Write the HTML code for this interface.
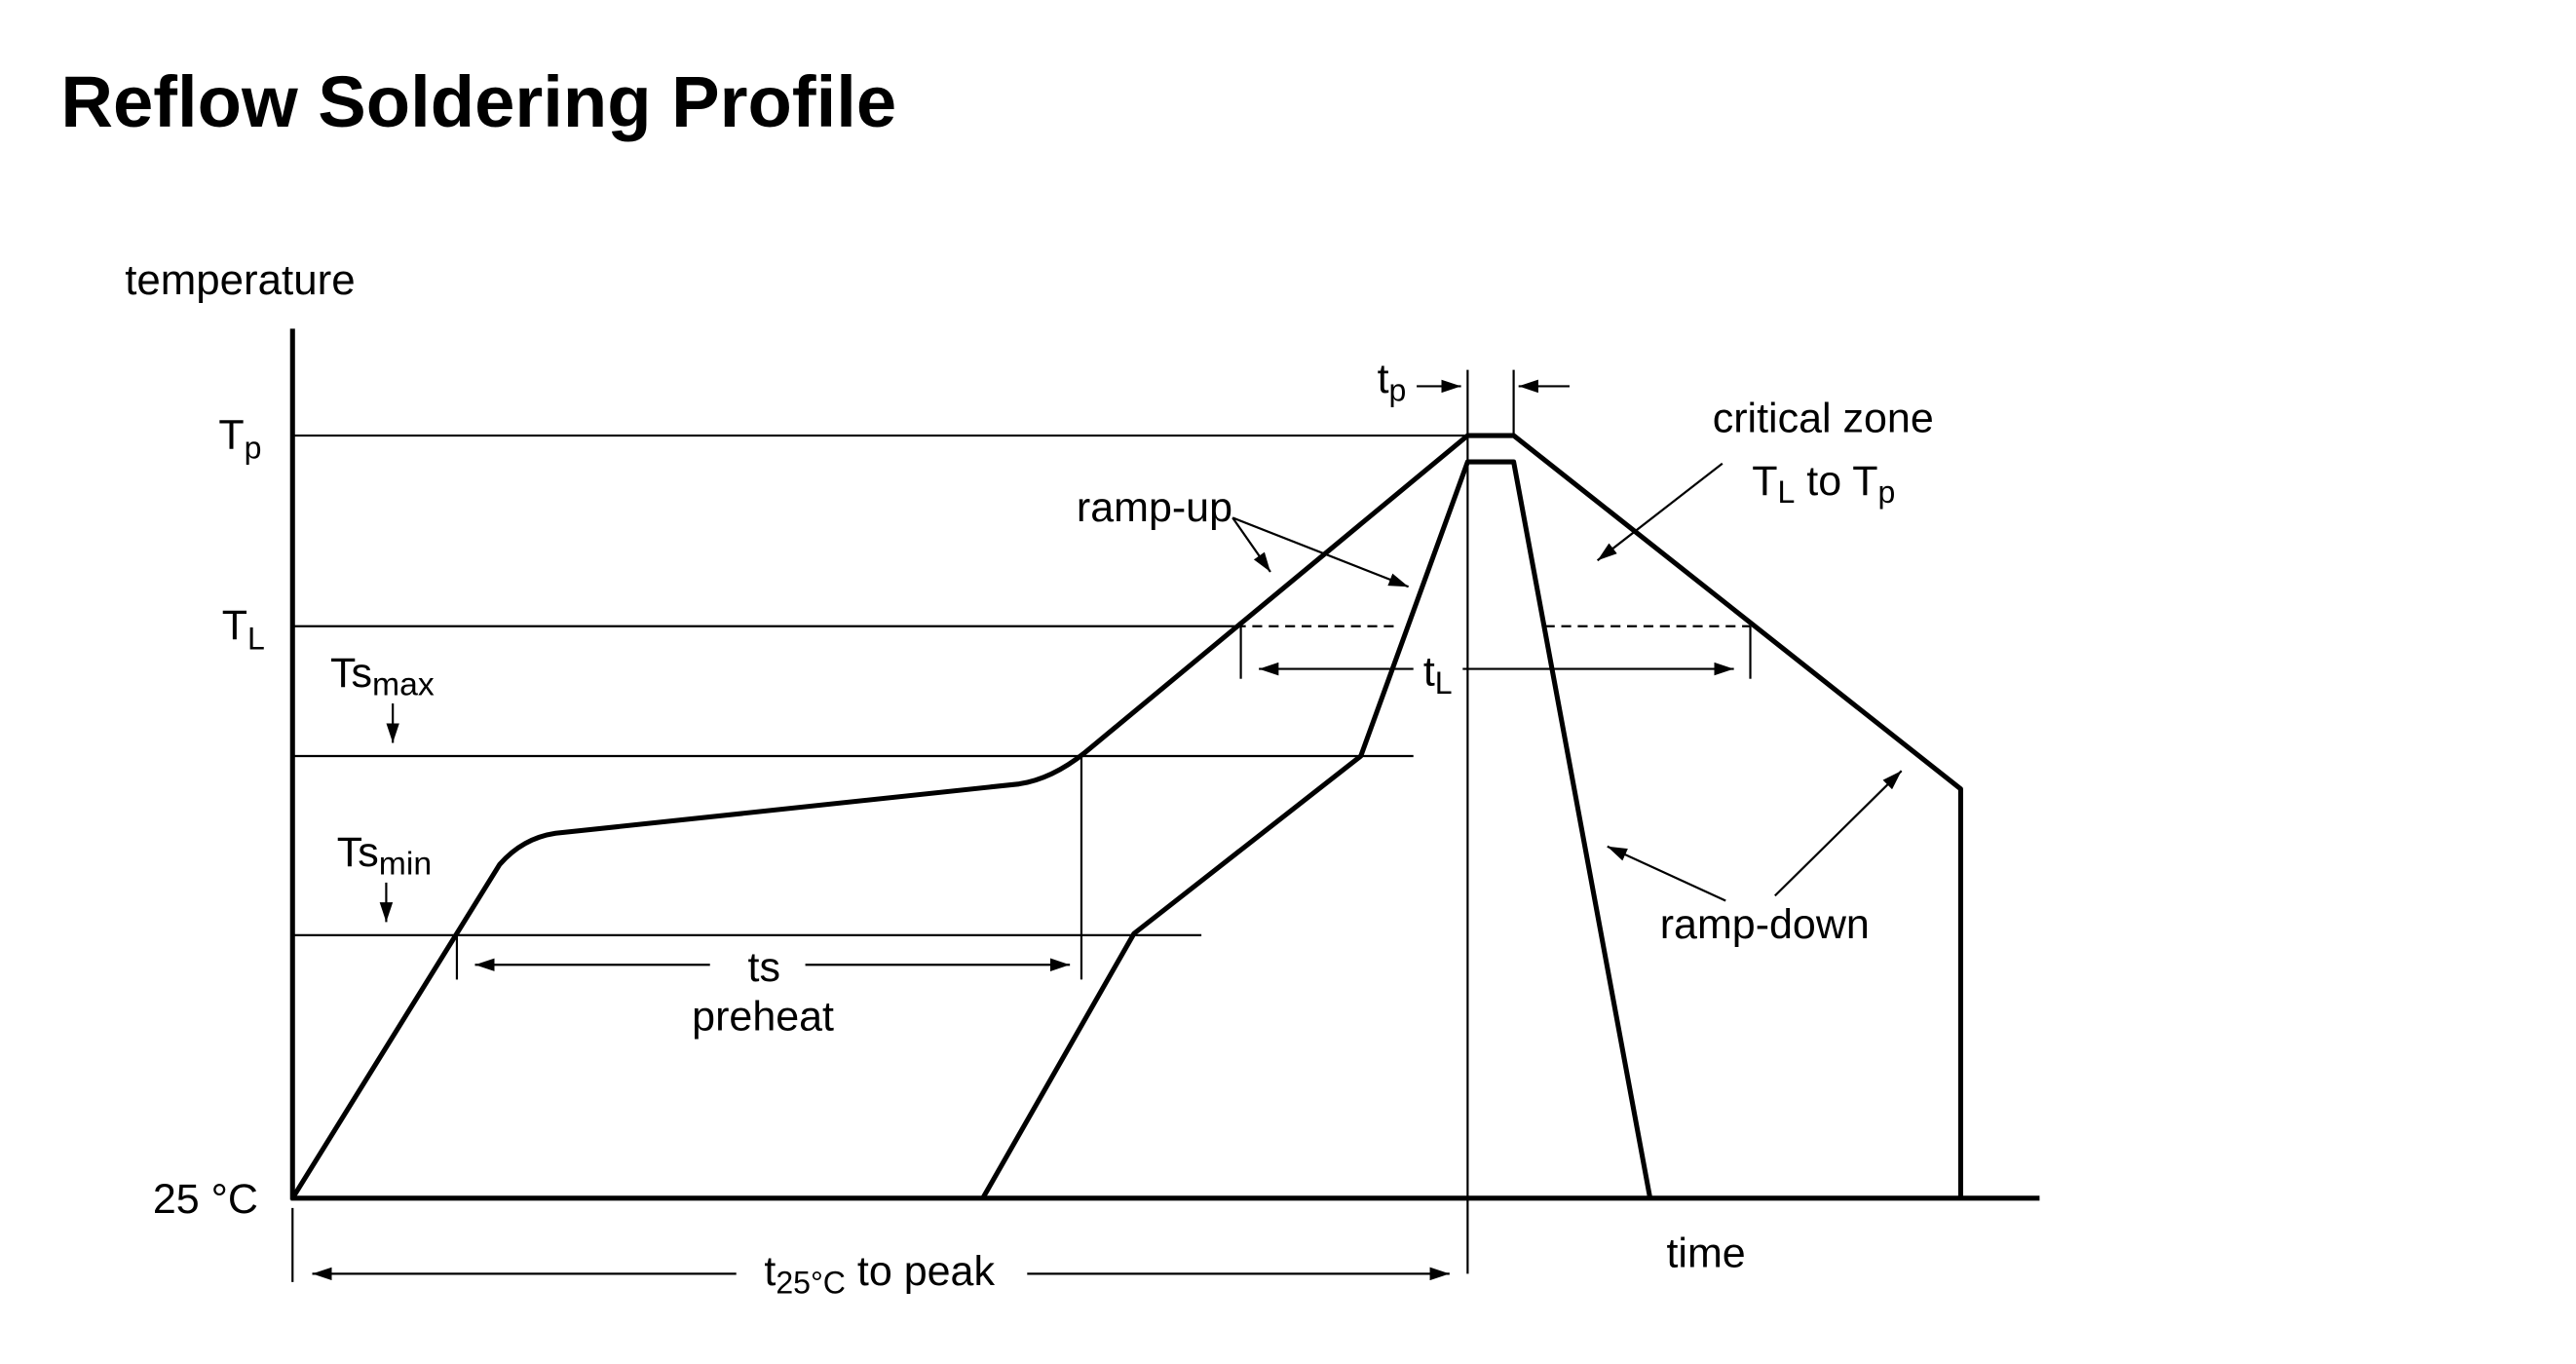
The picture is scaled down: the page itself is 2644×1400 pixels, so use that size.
<!DOCTYPE html>
<html><head><meta charset="utf-8"><style>
html,body{margin:0;padding:0;background:#fff;}
svg{display:block;}
text{font-family:"Liberation Sans",Arial,sans-serif;fill:#000;}
</style></head><body>
<svg width="2644" height="1400" viewBox="0 0 1567.4 829.9" preserveAspectRatio="none" xmlns="http://www.w3.org/2000/svg">
<defs>
<marker id="a" viewBox="0 0 12 8" refX="12" refY="4" markerWidth="12" markerHeight="8" markerUnits="userSpaceOnUse" orient="auto">
<path d="M0,0 L12,4 L0,8 z" fill="#000"/></marker>
</defs>
<text x="37" y="77" font-size="44" font-weight="bold">Reflow Soldering Profile</text>
<text x="76" y="179" font-size="26">temperature</text>
<g stroke="#000" fill="none">
<line x1="178" y1="200" x2="178" y2="730" stroke-width="3"/>
<line x1="177" y1="729" x2="1241" y2="729" stroke-width="3"/>
<g stroke-width="1.3">
<line x1="178" y1="265" x2="893" y2="265"/>
<line x1="178" y1="381" x2="752" y2="381"/>
<line x1="752" y1="381" x2="852" y2="381" stroke-dasharray="6,4"/>
<line x1="940" y1="381" x2="1065" y2="381" stroke-dasharray="6,4"/>
<line x1="178" y1="460" x2="860" y2="460"/>
<line x1="178" y1="569" x2="731" y2="569"/>
<line x1="893" y1="225" x2="893" y2="775"/>
<line x1="921" y1="225" x2="921" y2="265"/>
<line x1="658" y1="460" x2="658" y2="596"/>
<line x1="278" y1="569" x2="278" y2="596"/>
<line x1="755" y1="381" x2="755" y2="413"/>
<line x1="1065" y1="381" x2="1065" y2="413"/>
<line x1="178" y1="735" x2="178" y2="780"/>
<line x1="239" y1="428" x2="239" y2="452" marker-end="url(#a)"/>
<line x1="235" y1="537" x2="235" y2="561" marker-end="url(#a)"/>
<line x1="432" y1="587" x2="289" y2="587" marker-end="url(#a)"/>
<line x1="490" y1="587" x2="651" y2="587" marker-end="url(#a)"/>
<line x1="448" y1="775" x2="190" y2="775" marker-end="url(#a)"/>
<line x1="625" y1="775" x2="882" y2="775" marker-end="url(#a)"/>
<line x1="860" y1="407" x2="766" y2="407" marker-end="url(#a)"/>
<line x1="890" y1="407" x2="1055" y2="407" marker-end="url(#a)"/>
<line x1="862" y1="235" x2="889" y2="235" marker-end="url(#a)"/>
<line x1="955" y1="235" x2="924" y2="235" marker-end="url(#a)"/>
<line x1="750" y1="315" x2="773" y2="348" marker-end="url(#a)"/>
<line x1="750" y1="315" x2="857" y2="357" marker-end="url(#a)"/>
<line x1="1048" y1="282" x2="972" y2="341" marker-end="url(#a)"/>
<line x1="1050" y1="548" x2="978" y2="515" marker-end="url(#a)"/>
<line x1="1080" y1="545" x2="1157" y2="469" marker-end="url(#a)"/>
</g>
<path d="M178,729 L304,526 Q318,510 338,507 L620,477 Q640,474 660,458 L893,265 L921,265 L1193,480 L1193,729" stroke-width="3" stroke-linejoin="round"/>
<path d="M598,729 L690,568 L828,460 L893,281 L921,281 L1004,729" stroke-width="3" stroke-linejoin="round"/>
</g>
<g font-size="25.5">
<text x="133" y="273">T<tspan font-size="19" dy="6">p</tspan></text>
<text x="135" y="389">T<tspan font-size="19" dy="6">L</tspan></text>
<text x="93" y="738">25 °C</text>
<text x="201" y="418">Ts<tspan font-size="20" dy="5">max</tspan></text>
<text x="205" y="527">Ts<tspan font-size="20" dy="5">min</tspan></text>
<text x="455" y="597">ts</text>
<text x="421" y="627">preheat</text>
<text x="465" y="782">t<tspan font-size="19" dy="5">25°C</tspan><tspan dy="-5"> to peak</tspan></text>
<text x="866" y="417">t<tspan font-size="19" dy="5">L</tspan></text>
<text x="838" y="239">t<tspan font-size="19" dy="5">p</tspan></text>
<text x="655" y="317">ramp-up</text>
<text x="1042" y="263">critical zone</text>
<text x="1066" y="301">T<tspan font-size="19" dy="5">L</tspan><tspan dy="-5"> to T</tspan><tspan font-size="19" dy="5">p</tspan></text>
<text x="1010" y="571">ramp-down</text>
<text x="1014" y="771">time</text>
</g>
</svg>
</body></html>
